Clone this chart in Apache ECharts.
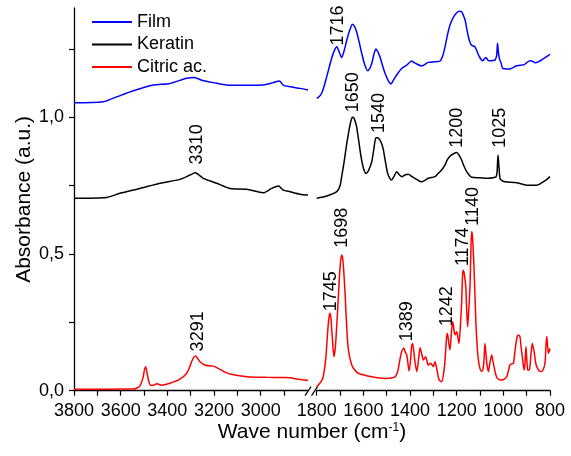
<!DOCTYPE html>
<html>
<head>
<meta charset="utf-8">
<script src="https://cdn.jsdelivr.net/npm/echarts@6/dist/echarts.min.js"></script>
<style>
  html, body { margin: 0; padding: 0; background: #fff; }
  #chart { width: 571px; height: 456px; }
</style>
</head>
<body>
<div id="chart"></div>
<script>
// spectra: [wave number, absorbance]
const filmLeft = [
  [3800, 1.053], [3674, 1.057], [3617, 1.075], [3546, 1.097], [3460, 1.118], [3389, 1.124],
  [3317, 1.143], [3284, 1.146], [3253, 1.136], [3203, 1.127], [3131, 1.117], [3060, 1.117],
  [2989, 1.118], [2946, 1.127], [2920, 1.133], [2903, 1.118], [2874, 1.112], [2831, 1.106], [2797, 1.100]
];
const filmRight = [
  [1800, 1.070], [1790, 1.075], [1779, 1.088], [1768, 1.115], [1757, 1.149], [1736, 1.216], [1724, 1.245],
  [1714, 1.258], [1704, 1.240], [1693, 1.219], [1682, 1.245], [1671, 1.283], [1658, 1.320], [1647, 1.341],
  [1638, 1.333], [1629, 1.313], [1618, 1.275], [1607, 1.234], [1594, 1.192], [1581, 1.170], [1572, 1.180],
  [1564, 1.197], [1555, 1.230], [1546, 1.250], [1538, 1.240], [1529, 1.222], [1518, 1.190], [1507, 1.161],
  [1494, 1.135], [1482, 1.122], [1470, 1.138], [1457, 1.155], [1436, 1.179], [1414, 1.191], [1393, 1.206],
  [1382, 1.200], [1371, 1.195], [1350, 1.188], [1322, 1.201], [1293, 1.203], [1271, 1.206], [1260, 1.225],
  [1250, 1.258], [1240, 1.300], [1229, 1.337], [1215, 1.365], [1200, 1.383], [1190, 1.388], [1179, 1.386],
  [1170, 1.370], [1164, 1.356], [1157, 1.325], [1150, 1.295], [1143, 1.275], [1136, 1.264], [1122, 1.258],
  [1112, 1.240], [1103, 1.222], [1089, 1.207], [1080, 1.215], [1074, 1.219], [1067, 1.210], [1060, 1.207],
  [1045, 1.208], [1036, 1.210], [1029, 1.225], [1025, 1.271], [1021, 1.235], [1016, 1.212], [1010, 1.200],
  [1003, 1.179], [985, 1.177], [971, 1.177], [958, 1.182], [946, 1.188], [933, 1.190], [921, 1.191],
  [910, 1.193], [900, 1.200], [886, 1.207], [875, 1.205], [864, 1.200], [850, 1.203], [836, 1.210],
  [818, 1.220], [800, 1.230]
];
const keratinLeft = [
  [3800, 0.704], [3660, 0.707], [3603, 0.722], [3517, 0.740], [3431, 0.759], [3346, 0.773], [3303, 0.789],
  [3281, 0.797], [3246, 0.777], [3189, 0.759], [3131, 0.740], [3060, 0.737], [2989, 0.724], [2953, 0.740],
  [2924, 0.749], [2903, 0.734], [2874, 0.728], [2831, 0.719], [2797, 0.716]
];
const keratinRight = [
  [1800, 0.704], [1757, 0.712], [1714, 0.728], [1700, 0.750], [1693, 0.783], [1682, 0.840], [1671, 0.905],
  [1661, 0.955], [1654, 0.985], [1647, 1.000], [1641, 0.998], [1635, 0.985], [1629, 0.966], [1620, 0.915],
  [1610, 0.856], [1600, 0.815], [1589, 0.795], [1578, 0.805], [1564, 0.838], [1555, 0.885], [1546, 0.925],
  [1538, 0.925], [1529, 0.917], [1520, 0.900], [1514, 0.880], [1505, 0.835], [1496, 0.795], [1487, 0.778],
  [1479, 0.771], [1468, 0.785], [1457, 0.801], [1446, 0.790], [1436, 0.783], [1420, 0.790], [1407, 0.792],
  [1393, 0.784], [1379, 0.777], [1350, 0.764], [1322, 0.777], [1293, 0.783], [1279, 0.795], [1264, 0.808],
  [1250, 0.826], [1240, 0.845], [1229, 0.858], [1215, 0.866], [1200, 0.871], [1190, 0.862], [1179, 0.844],
  [1168, 0.820], [1157, 0.801], [1146, 0.788], [1136, 0.781], [1100, 0.779], [1064, 0.777], [1040, 0.780],
  [1031, 0.783], [1027, 0.800], [1023, 0.862], [1019, 0.820], [1014, 0.775], [1005, 0.768], [993, 0.764],
  [943, 0.761], [900, 0.752], [857, 0.752], [840, 0.758], [829, 0.764], [815, 0.772], [800, 0.783]
];
const citricLeft = [
  [3800, 0.005], [3700, 0.005], [3600, 0.006], [3546, 0.006], [3530, 0.010], [3517, 0.018], [3505, 0.045],
  [3497, 0.080], [3493, 0.088], [3488, 0.070], [3481, 0.039], [3472, 0.020], [3460, 0.020], [3446, 0.025],
  [3424, 0.020], [3389, 0.027], [3346, 0.042], [3317, 0.064], [3305, 0.085], [3296, 0.106], [3287, 0.122],
  [3279, 0.127], [3270, 0.118], [3260, 0.106], [3239, 0.094], [3220, 0.091], [3203, 0.090], [3174, 0.078],
  [3150, 0.067], [3131, 0.061], [3060, 0.051], [2974, 0.049], [2900, 0.048], [2874, 0.047], [2839, 0.042],
  [2797, 0.037]
];
const citricRight = [
  [1800, 0.015], [1793, 0.021], [1780, 0.035], [1772, 0.051], [1761, 0.118], [1753, 0.216], [1747, 0.270],
  [1743, 0.283], [1739, 0.265], [1736, 0.228], [1731, 0.170], [1726, 0.124], [1720, 0.160], [1714, 0.240],
  [1708, 0.330], [1703, 0.411], [1698, 0.470], [1693, 0.496], [1688, 0.480], [1683, 0.423], [1678, 0.350],
  [1674, 0.277], [1665, 0.155], [1650, 0.094], [1636, 0.075], [1622, 0.064], [1564, 0.051], [1507, 0.045],
  [1475, 0.047], [1464, 0.051], [1455, 0.065], [1450, 0.082], [1442, 0.120], [1436, 0.143], [1430, 0.153],
  [1426, 0.155], [1420, 0.140], [1414, 0.131], [1409, 0.100], [1404, 0.072], [1398, 0.110], [1393, 0.165],
  [1389, 0.173], [1384, 0.145], [1379, 0.106], [1371, 0.070], [1364, 0.110], [1357, 0.157], [1350, 0.135],
  [1343, 0.112], [1333, 0.124], [1322, 0.094], [1312, 0.100], [1300, 0.088], [1293, 0.106], [1286, 0.082],
  [1275, 0.039], [1264, 0.033], [1255, 0.070], [1250, 0.112], [1244, 0.190], [1240, 0.210], [1234, 0.175],
  [1229, 0.149], [1222, 0.220], [1217, 0.252], [1212, 0.225], [1207, 0.204], [1200, 0.216], [1195, 0.195],
  [1190, 0.173], [1184, 0.240], [1179, 0.320], [1175, 0.420], [1172, 0.441], [1168, 0.430], [1161, 0.380],
  [1157, 0.290], [1153, 0.234], [1148, 0.300], [1143, 0.380], [1139, 0.520], [1136, 0.582], [1132, 0.560],
  [1126, 0.454], [1121, 0.330], [1117, 0.234], [1112, 0.160], [1107, 0.112], [1100, 0.080], [1093, 0.070],
  [1087, 0.080], [1083, 0.112], [1079, 0.173], [1075, 0.140], [1071, 0.100], [1064, 0.070], [1058, 0.100],
  [1050, 0.131], [1045, 0.110], [1040, 0.088], [1033, 0.060], [1026, 0.045], [1015, 0.040], [1007, 0.039],
  [995, 0.043], [986, 0.051], [979, 0.070], [972, 0.094], [965, 0.098], [957, 0.100], [951, 0.140],
  [946, 0.173], [940, 0.200], [936, 0.204], [929, 0.198], [924, 0.160], [919, 0.124], [913, 0.085],
  [910, 0.076], [906, 0.120], [903, 0.161], [900, 0.120], [896, 0.076], [891, 0.075], [886, 0.088],
  [881, 0.140], [876, 0.173], [871, 0.155], [867, 0.137], [862, 0.105], [857, 0.088], [846, 0.072],
  [836, 0.070], [826, 0.085], [821, 0.106], [817, 0.170], [814, 0.198], [810, 0.160], [807, 0.137],
  [803, 0.145], [800, 0.155]
];

// peak annotations: text, and where the foot of the label sits
const peakText = ['3310', '3291', '1716', '1650', '1540', '1200', '1025', '1745', '1698', '1389', '1242', '1174', '1140'];
const peakWave = [3274, 3270, 1709, 1643, 1533, 1200, 1014, 1739, 1690, 1414, 1243, 1172, 1130];
const peakAbs = [0.826, 0.142, 1.261, 1.017, 0.941, 0.887, 0.887, 0.289, 0.521, 0.179, 0.234, 0.454, 0.602];

// axis ticks / labels
const leftTicks = [3800, 3700, 3600, 3500, 3400, 3300, 3200, 3100, 3000, 2900];
const leftLabels = [3800, 3600, 3400, 3200, 3000];
const rightTicks = [1800, 1700, 1600, 1500, 1400, 1300, 1200, 1100, 1000, 900, 800];
const rightLabels = [1800, 1600, 1400, 1200, 1000, 800];
const yTicks = [0, 0.25, 0.5, 0.75, 1.0, 1.25];
const yLabels = [0, 0.5, 1.0];

const font = "'Liberation Sans', Arial, sans-serif";
const colors = { Film: '#0000ff', Keratin: '#000000', 'Citric ac.': '#ff0000' };

// layout: both panels share one wave-number scale (px per cm-1)
const pxPerUnit = 0.23333;
const leftMin = 2797, leftMax = 3800, rightMin = 800, rightMax = 1800;
const leftX = 74, rightX = 316.7, gridTop = 8, gridBottom = 65.3;
const leftW = (leftMax - leftMin) * pxPerUnit;
const rightW = (rightMax - rightMin) * pxPerUnit;
const axisY = 456 - gridBottom;

const chart = echarts.init(document.getElementById('chart'));

function xAxisFor(grid, min, max, ticks, labels) {
  return {
    gridIndex: grid, type: 'value', min: min, max: max, inverse: true,
    axisLine: { show: true, lineStyle: { color: '#000', width: 1.3 } },
    axisTick: { show: true, customValues: ticks, length: 5, lineStyle: { color: '#000', width: 1.2 } },
    axisLabel: {
      customValues: labels, fontSize: 18, fontFamily: font, color: '#000', margin: 11,
      formatter: v => String(v)
    },
    splitLine: { show: false }
  };
}

function spectrum(name, data, panel) {
  return {
    name: name, type: 'line', data: data,
    xAxisIndex: panel, yAxisIndex: panel,
    symbol: 'none', smooth: 0.25, silent: true,
    lineStyle: { color: colors[name], width: 1.5 },
    itemStyle: { color: colors[name] }
  };
}

function peakSeries(panel) {
  const data = [];
  peakText.forEach((t, i) => {
    const isLeft = peakWave[i] > 2000;
    if ((panel === 0) === isLeft) data.push({ name: t, value: [peakWave[i], peakAbs[i]] });
  });
  return {
    type: 'scatter', data: data, xAxisIndex: panel, yAxisIndex: panel,
    symbolSize: 1, silent: true, itemStyle: { color: 'rgba(0,0,0,0)', opacity: 1 },
    label: {
      show: true, formatter: '{b}', position: 'top', distance: 0, rotate: 90,
      align: 'left', verticalAlign: 'middle', fontSize: 18, fontFamily: font, color: '#000'
    }
  };
}

const option = {
  animation: false,
  backgroundColor: '#fff',
  grid: [
    { left: leftX, top: gridTop, width: leftW, bottom: gridBottom, outerBoundsMode: 'none' },
    { left: rightX, top: gridTop, width: rightW, bottom: gridBottom, outerBoundsMode: 'none' }
  ],
  legend: {
    data: ['Film', 'Keratin', 'Citric ac.'],
    orient: 'vertical', left: 92, top: 13, padding: 0,
    itemWidth: 40, itemHeight: 2, itemGap: 4.5, icon: 'rect',
    textStyle: { fontSize: 18, fontFamily: font, color: '#000', lineHeight: 18 }
  },
  xAxis: [
    xAxisFor(0, leftMin, leftMax, leftTicks, leftLabels),
    xAxisFor(1, rightMin, rightMax, rightTicks, rightLabels)
  ],
  yAxis: [
    {
      gridIndex: 0, type: 'value', min: 0, max: 1.4, position: 'left',
      name: 'Absorbance (a.u.)', nameLocation: 'middle', nameGap: 39,
      nameTextStyle: { fontSize: 21, fontFamily: font, color: '#000' },
      axisLine: { show: true, lineStyle: { color: '#000', width: 1.3 } },
      axisTick: { show: true, customValues: yTicks, length: 5, lineStyle: { color: '#000', width: 1.2 } },
      axisLabel: {
        customValues: yLabels, fontSize: 18, fontFamily: font, color: '#000', margin: 10,
        formatter: v => v.toFixed(1).replace('.', ',')
      },
      splitLine: { show: false }
    },
    {
      gridIndex: 1, type: 'value', min: 0, max: 1.4, show: false,
      splitLine: { show: false }
    }
  ],
  graphic: [
    // axis break marks
    { type: 'line', shape: { x1: leftX + leftW - 3, y1: axisY + 5, x2: leftX + leftW + 3, y2: axisY - 4 },
      style: { stroke: '#000', lineWidth: 1.2 } },
    { type: 'line', shape: { x1: leftX + leftW + 3.5, y1: axisY + 5, x2: leftX + leftW + 9.5, y2: axisY - 4 },
      style: { stroke: '#000', lineWidth: 1.2 } },
    {
      type: 'text', x: (leftX + rightX + rightW) / 2, y: 432,
      style: {
        text: 'Wave number (cm{sup|-1})', align: 'center', verticalAlign: 'middle',
        fontSize: 21, fontFamily: font, fill: '#000',
        rich: { sup: { fontSize: 12, verticalAlign: 'top', fontFamily: font } }
      }
    }
  ],
  series: [
    spectrum('Film', filmLeft, 0), spectrum('Film', filmRight, 1),
    spectrum('Keratin', keratinLeft, 0), spectrum('Keratin', keratinRight, 1),
    spectrum('Citric ac.', citricLeft, 0), spectrum('Citric ac.', citricRight, 1),
    peakSeries(0), peakSeries(1)
  ]
};

chart.setOption(option);
</script>
</body>
</html>
